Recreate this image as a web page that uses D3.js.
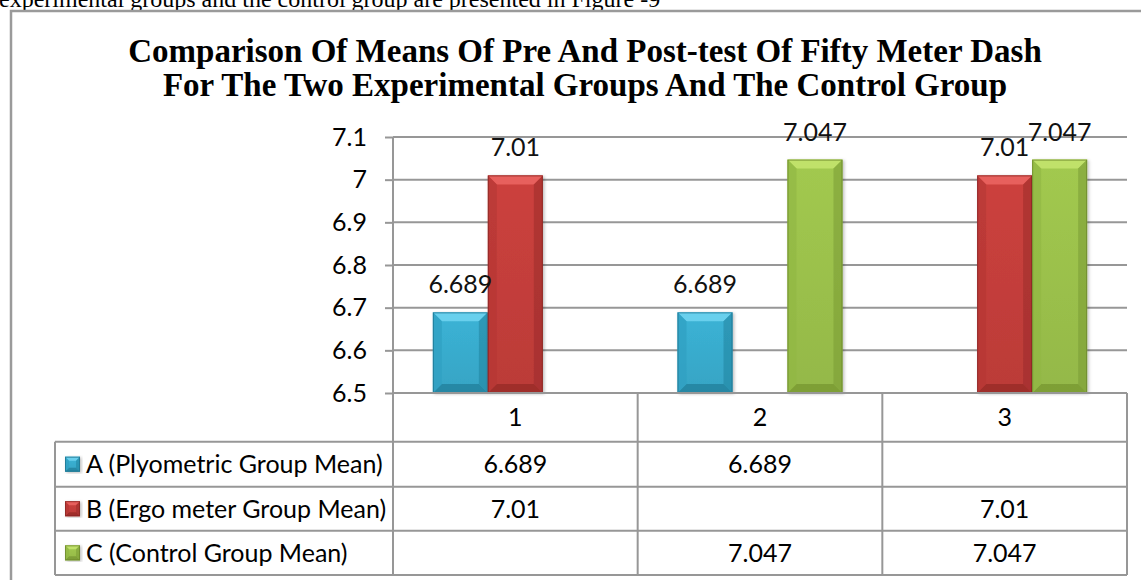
<!DOCTYPE html>
<html>
<head>
<meta charset="utf-8">
<script src="https://cdn.jsdelivr.net/npm/d3@7"></script>
<style>
  html, body { margin: 0; padding: 0; background: #ffffff; }
  svg { display: block; }
</style>
</head>
<body>
<svg id="chart" width="1141" height="580"></svg>
<script>
// ---- data ----
const categories = ["1", "2", "3"];
const seriesNames = ["A (Plyometric Group Mean)", "B (Ergo meter Group Mean)", "C (Control Group Mean)"];
const seriesA = [6.689, 6.689, null];
const seriesB = [7.01, null, 7.01];
const seriesC = [null, 7.047, 7.047];
const yTicks = [6.5, 6.6, 6.7, 6.8, 6.9, 7.0, 7.1];
const titleLines = [
  "Comparison Of Means Of Pre And Post-test Of Fifty Meter Dash",
  "For The Two Experimental Groups And The Control Group"
];
const leadText = "experimental groups and the control group are presented in Figure -9";

// ---- styling ----
const palette = [
  { base: "#3bb3d6", light: "#6fd3ef", dark: "#23839f", side: "#2f9fc2", edge: "#1f7490" },
  { base: "#cc413d", light: "#ea6461", dark: "#9a2c29", side: "#b73835", edge: "#8a2724" },
  { base: "#a2c94f", light: "#c3e36e", dark: "#7a9a34", side: "#92b843", edge: "#6b872c" }
];
const sansFont = "Lato, 'Open Sans', sans-serif";
const serifFont = "'Liberation Serif', 'Times New Roman', serif";
const gridColor = "#979797";
const labelSize = 25;

const svg = d3.select("#chart");

// layout
const plotLeft = 393, plotRight = 1127, plotTop = 137, plotBottom = 393;
const tableLeft = 55;
const rowEdges = [393, 441.7, 486.7, 530.7, 575];

const series = [seriesA, seriesB, seriesC];

// ---- scales ----
const x0 = d3.scaleBand().domain(categories).range([plotLeft, plotRight]).padding(0);
const x1 = d3.scaleBand().domain(d3.range(series.length))
  .range([0, x0.bandwidth()]).paddingInner(0).paddingOuter(0.725);
const y = d3.scaleLinear().domain([6.5, 7.1]).range([plotBottom, plotTop]);

// ---- leading paragraph text (runs off the top edge) ----
svg.append("text")
  .attr("x", -1).attr("y", 7)
  .attr("font-family", serifFont).attr("font-size", 24)
  .attr("fill", "#000")
  .text(leadText);

// ---- chart frame ----
svg.append("path")
  .attr("d", `M11,580 V11 H1141`)
  .attr("fill", "none").attr("stroke", "#9a9a9a").attr("stroke-width", 2.5);

// ---- title ----
svg.append("g").selectAll("text").data(titleLines).join("text")
  .attr("x", 585).attr("y", (d, i) => 62 + i * 34)
  .attr("text-anchor", "middle")
  .attr("font-family", serifFont).attr("font-weight", "bold").attr("font-size", 33)
  .attr("fill", "#000")
  .text(d => d);

// ---- gridlines + y axis ----
const yAxis = d3.axisLeft(y).tickValues(yTicks)
  .tickSize(8).tickPadding(18)
  .tickFormat(d => d3.format("")(+d.toFixed(1)));
const yAxisG = svg.append("g").attr("transform", `translate(${plotLeft},0)`).call(yAxis);
yAxisG.select(".domain").remove();
yAxisG.selectAll(".tick line").attr("stroke", gridColor).attr("stroke-width", 2);
yAxisG.selectAll(".tick text")
  .attr("font-family", sansFont).attr("font-size", labelSize).attr("fill", "#000");

svg.append("g").selectAll("line").data(yTicks).join("line")
  .attr("x1", plotLeft).attr("x2", plotRight)
  .attr("y1", d => y(d)).attr("y2", d => y(d))
  .attr("stroke", gridColor).attr("stroke-width", 2);

// vertical axis line continuing into the table
svg.append("line")
  .attr("x1", plotLeft).attr("x2", plotLeft).attr("y1", plotTop).attr("y2", rowEdges[4])
  .attr("stroke", gridColor).attr("stroke-width", 2);

// ---- bars with bevelled faces ----
const defs = svg.append("defs");
palette.forEach((p, i) => {
  const g = defs.append("linearGradient").attr("id", "body" + i)
    .attr("x1", 0).attr("y1", 0).attr("x2", 0).attr("y2", 1);
  g.append("stop").attr("offset", "0%").attr("stop-color", p.base);
  g.append("stop").attr("offset", "100%").attr("stop-color", d3.color(p.base).darker(0.25));
  const f = defs.append("filter").attr("id", "shadow" + i)
    .attr("x", "-20%").attr("y", "-10%").attr("width", "140%").attr("height", "120%");
  f.append("feDropShadow").attr("dx", 1.5).attr("dy", 1).attr("stdDeviation", 1.5)
    .attr("flood-color", "#000").attr("flood-opacity", 0.25);
});

function bevelBar(g, x, yTop, w, h, p, idx, b) {
  const grp = g.append("g").attr("filter", `url(#shadow${idx})`);
  grp.append("rect").attr("x", x).attr("y", yTop).attr("width", w).attr("height", h)
    .attr("fill", `url(#body${idx})`);
  const yb = yTop + h;
  const faces = [
    { pts: [[x, yTop], [x + w, yTop], [x + w - b, yTop + b], [x + b, yTop + b]], fill: p.light, op: 0.9 },
    { pts: [[x, yb], [x + w, yb], [x + w - b, yb - b], [x + b, yb - b]], fill: p.dark, op: 0.85 },
    { pts: [[x, yTop], [x + b, yTop + b], [x + b, yb - b], [x, yb]], fill: p.side, op: 0.7 },
    { pts: [[x + w, yTop], [x + w - b, yTop + b], [x + w - b, yb - b], [x + w, yb]], fill: p.dark, op: 0.55 }
  ];
  faces.forEach(f => {
    grp.append("polygon").attr("points", f.pts.map(q => q.join(",")).join(" "))
      .attr("fill", f.fill).attr("opacity", f.op);
  });
  grp.append("rect").attr("x", x + 0.5).attr("y", yTop + 0.5).attr("width", w - 1).attr("height", h - 1)
    .attr("fill", "none").attr("stroke", p.edge).attr("stroke-width", 1).attr("opacity", 0.8);
}

const barData = [];
series.forEach((vals, si) => {
  vals.forEach((v, ci) => {
    if (v != null) barData.push({ si, ci, v });
  });
});

const barsG = svg.append("g");
barData.forEach(d => {
  const bx = x0(categories[d.ci]) + x1(d.si);
  const by = y(d.v);
  bevelBar(barsG, bx, by, x1.bandwidth(), plotBottom - by, palette[d.si], d.si, 9);
});

// value labels above bars
svg.append("g").selectAll("text").data(barData).join("text")
  .attr("x", d => x0(categories[d.ci]) + x1(d.si) + x1.bandwidth() / 2)
  .attr("y", d => y(d.v) - 19)
  .attr("text-anchor", "middle")
  .attr("font-family", sansFont).attr("font-size", labelSize).attr("fill", "#111")
  .text(d => d.v);

// ---- data table ----
const tableG = svg.append("g");
// horizontal rules
rowEdges.forEach((ry, i) => {
  tableG.append("line")
    .attr("x1", i === 0 ? plotLeft : tableLeft).attr("x2", plotRight)
    .attr("y1", ry).attr("y2", ry)
    .attr("stroke", gridColor).attr("stroke-width", 2);
});
// vertical rules
const colEdges = categories.map(c => x0(c)).concat([plotRight]);
colEdges.forEach(cx => {
  tableG.append("line").attr("x1", cx).attr("x2", cx)
    .attr("y1", rowEdges[0]).attr("y2", rowEdges[4])
    .attr("stroke", gridColor).attr("stroke-width", 2);
});
tableG.append("line").attr("x1", tableLeft).attr("x2", tableLeft)
  .attr("y1", rowEdges[1]).attr("y2", rowEdges[4])
  .attr("stroke", gridColor).attr("stroke-width", 2);

// category header row
tableG.selectAll("text.cat").data(categories).join("text").attr("class", "cat")
  .attr("x", d => x0(d) + x0.bandwidth() / 2)
  .attr("y", (rowEdges[0] + rowEdges[1]) / 2)
  .attr("dy", "0.36em").attr("text-anchor", "middle")
  .attr("font-family", sansFont).attr("font-size", labelSize).attr("fill", "#000")
  .text(d => d);

// series rows
series.forEach((vals, si) => {
  const cy = (rowEdges[si + 1] + rowEdges[si + 2]) / 2;
  // legend key
  const k = 15;
  bevelBar(tableG, 65, cy - k / 2, k, k, palette[si], si, 4);
  tableG.append("text")
    .attr("x", 86).attr("y", cy).attr("dy", "0.36em")
    .attr("font-family", sansFont).attr("font-size", labelSize).attr("fill", "#000")
    .text(seriesNames[si]);
  vals.forEach((v, ci) => {
    if (v == null) return;
    tableG.append("text")
      .attr("x", x0(categories[ci]) + x0.bandwidth() / 2).attr("y", cy).attr("dy", "0.36em")
      .attr("text-anchor", "middle")
      .attr("font-family", sansFont).attr("font-size", labelSize).attr("fill", "#000")
      .text(v);
  });
});
</script>
</body>
</html>
